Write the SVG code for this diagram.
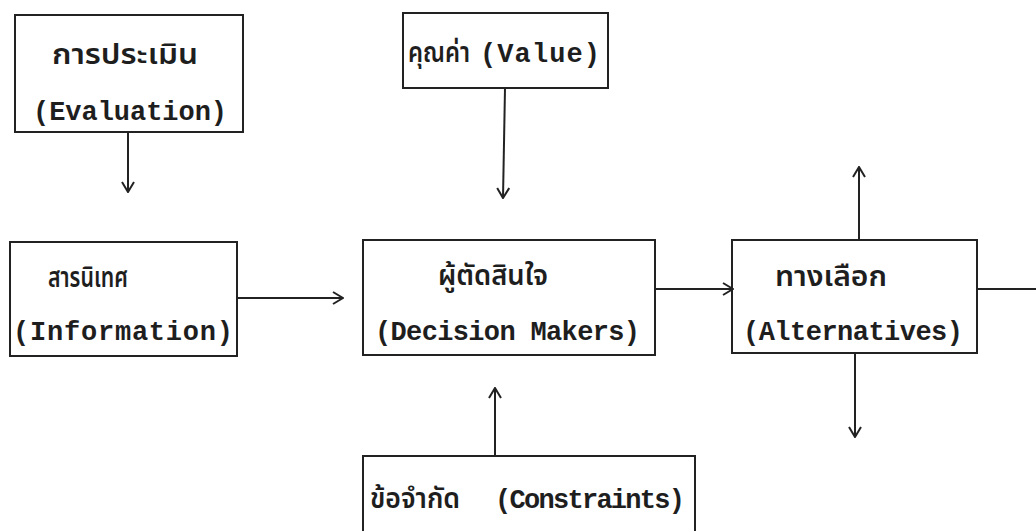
<svg xmlns="http://www.w3.org/2000/svg" width="1036" height="531" viewBox="0 0 1036 531">
<style>
.box{fill:none;stroke:#222;stroke-width:2}
.ln{fill:none;stroke:#222;stroke-width:2}
.en{font-family:"Liberation Mono","DejaVu Sans Mono",monospace;font-size:27px;font-weight:bold;fill:#1e1e1e}
.th{font-family:"Noto Sans Thai","Noto Sans","DejaVu Sans",sans-serif;font-size:28px;font-weight:600;fill:#1e1e1e}
</style>
<defs>
<marker id="ah" viewBox="0 0 12 14" refX="11" refY="7" markerWidth="12" markerHeight="14" markerUnits="userSpaceOnUse" orient="auto">
<path d="M1,1 L11,7 L1,13" fill="none" stroke="#222" stroke-width="2"/>
</marker>
</defs>
<rect width="1036" height="531" fill="#fff"/>
<g id="evaluation">
<rect class="box" x="15" y="15" width="228" height="117"/>
<text class="th" x="52" y="64" textLength="146" lengthAdjust="spacingAndGlyphs">การประเมิน</text>
<text class="en" x="33" y="120" textLength="194">(Evaluation)</text>
</g>
<g id="information">
<rect class="box" x="10" y="242" width="227" height="114"/>
<text class="th" x="48" y="287" textLength="80" lengthAdjust="spacingAndGlyphs">สารนิเทศ</text>
<text class="en" x="13" y="340" textLength="220">(Information)</text>
</g>
<g id="value">
<rect class="box" x="403" y="13" width="205" height="75"/>
<text class="th" x="408" y="62" textLength="62" lengthAdjust="spacingAndGlyphs">คุณค่า</text>
<text class="en" x="480" y="62" textLength="120">(Value)</text>
</g>
<g id="decision">
<rect class="box" x="363" y="240" width="292" height="115"/>
<text class="th" x="438" y="285" textLength="110" lengthAdjust="spacingAndGlyphs">ผู้ตัดสินใจ</text>
<text class="en" x="375" y="340" textLength="265">(Decision Makers)</text>
</g>
<g id="alternatives">
<rect class="box" x="732" y="240" width="245" height="113"/>
<text class="th" x="775" y="286" textLength="112" lengthAdjust="spacingAndGlyphs">ทางเลือก</text>
<text class="en" x="743" y="340" textLength="220">(Alternatives)</text>
</g>
<g id="constraints">
<path class="box" d="M363,540 L363,456 L695,456 L695,540"/>
<text class="th" x="370" y="508" textLength="90" lengthAdjust="spacingAndGlyphs">ข้อจำกัด</text>
<text class="en" x="495" y="508" textLength="190">(Constraints)</text>
</g>
<g id="connectors">
<line class="ln" x1="128" y1="132" x2="128" y2="192" marker-end="url(#ah)"/>
<line class="ln" x1="505" y1="88" x2="503" y2="198" marker-end="url(#ah)"/>
<line class="ln" x1="237" y1="298" x2="343" y2="298" marker-end="url(#ah)"/>
<line class="ln" x1="655" y1="289" x2="733" y2="289" marker-end="url(#ah)"/>
<line class="ln" x1="495" y1="456" x2="495" y2="388" marker-end="url(#ah)"/>
<line class="ln" x1="859" y1="240" x2="859" y2="167" marker-end="url(#ah)"/>
<line class="ln" x1="855" y1="353" x2="855" y2="437" marker-end="url(#ah)"/>
<line class="ln" x1="977" y1="289" x2="1036" y2="289"/>
</g>
</svg>
